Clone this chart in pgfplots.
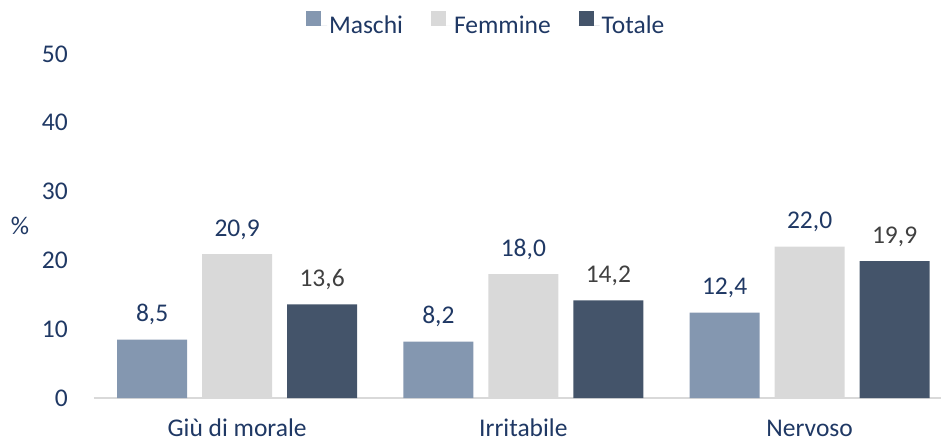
\documentclass[border=0pt]{standalone}
\usepackage{fontspec}
\setmainfont{Carlito}
\usepackage{pgfplots}
\usepackage{pgfplotstable}
\pgfplotsset{compat=1.18}

\definecolor{maschi}{HTML}{8497B0}
\definecolor{femmine}{HTML}{D9D9D9}
\definecolor{totale}{HTML}{44546A}
\definecolor{testo}{HTML}{1F3864}
\definecolor{grigio}{HTML}{404040}

\pgfplotsset{sqlegend/.style={legend image code/.code={%
  \fill[##1] (0pt,-1pt) rectangle (15pt,14pt);
  \path (0pt,0pt) -- (21pt,0pt);}}}

\pgfplotstableread{
cat maschi femmine totale
0   8.5    20.9    13.6
1   8.2    18.0    14.2
2   12.4   22.0    19.9
}\dati

\newcommand{\chartfont}{\fontsize{25.5}{30}\selectfont}

\begin{document}
\begin{tikzpicture}
\useasboundingbox (-94pt,-43pt) rectangle (847pt,398pt);
\begin{axis}[
  at={(0pt,0pt)}, anchor=south west,
  scale only axis, width=847pt, height=344pt,
  ybar=15pt, bar width=70pt,
  xmin=-0.5, xmax=2.459, ymin=0, ymax=50,
  ytick={0,10,...,50},
  xtick=data,
  xticklabels={Giù di morale, Irritabile, Nervoso},
  axis lines=left,
  axis line style={-},
  y axis line style={draw=none},
  x axis line style={draw=femmine, line width=1.5pt},
  major tick length=0pt,
  /pgf/number format/assume math mode=true,
  tick label style={font=\chartfont, text=testo},
  yticklabel style={anchor=east, inner sep=0pt, xshift=-26pt},
  xticklabel style={anchor=base, inner sep=0pt, text depth=0pt, yshift=-38pt},
  ylabel={\%},
  ylabel style={at={(rel axis cs:0,0.501)}, anchor=center, rotate=-90,
    xshift=-74pt, font=\chartfont, text=testo},
  nodes near coords,
  nodes near coords style={/pgf/number format/fixed,
    /pgf/number format/fixed zerofill,
    /pgf/number format/precision=1,
    /pgf/number format/use comma,
    /pgf/number format/assume math mode=true},
  every node near coord/.append style={font=\chartfont, text=testo,
    anchor=base, yshift=18pt, inner sep=0pt},
  legend columns=-1,
  legend style={at={(rel axis cs:0.463,1.087)}, anchor=center, draw=none,
    fill=none, font=\chartfont, text=testo,
    /tikz/every even column/.append style={column sep=26pt}},
]
\addplot[fill=maschi, draw=none, sqlegend]
  table[x=cat, y=maschi] {\dati};
\addplot[fill=femmine, draw=none, sqlegend]
  table[x=cat, y=femmine] {\dati};
\addplot[fill=totale, draw=none, sqlegend,
  every node near coord/.append style={text=grigio}]
  table[x=cat, y=totale] {\dati};
\legend{Maschi, Femmine, Totale}
\end{axis}
\end{tikzpicture}
\end{document}
